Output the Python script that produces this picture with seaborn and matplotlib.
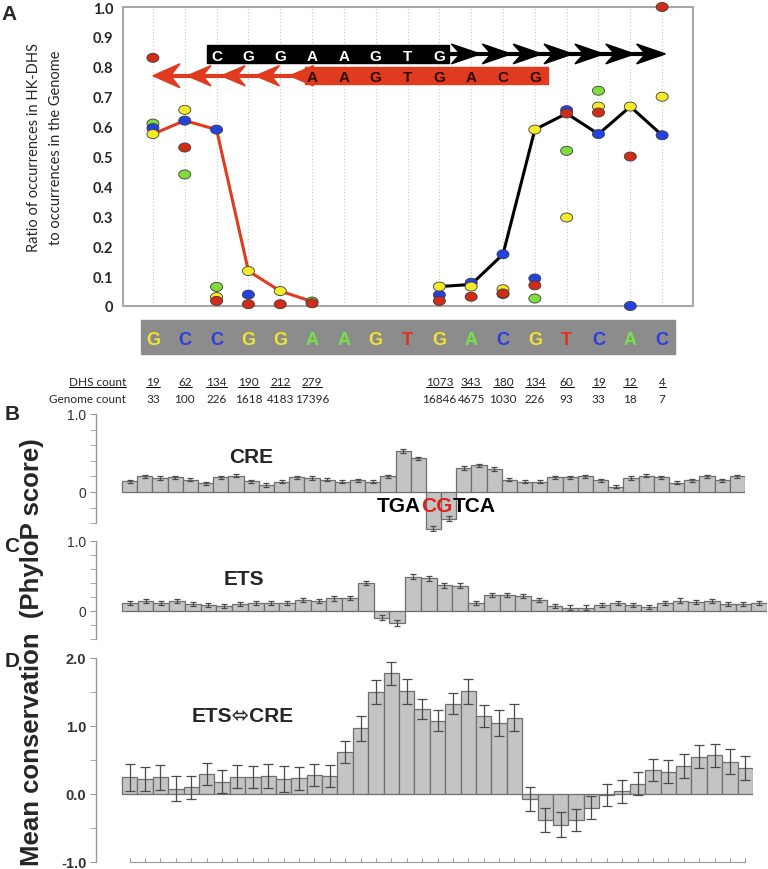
import numpy as np
import pandas as pd
import matplotlib
matplotlib.use("Agg")
import matplotlib.pyplot as plt
import matplotlib.path as mpath
from matplotlib.patches import Rectangle, Polygon
import seaborn as sns

W, H = 768, 870

# ---------------- panel A data ----------------
bases = list("GCCGGAAGTGACGTCAC")
dhs_count = ["19", "62", "134", "190", "212", "279", "", "", "",
             "1073", "343", "180", "134", "60", "19", "12", "4"]
genome_count = ["33", "100", "226", "1618", "4183", "17396", "", "", "",
                "16846", "4675", "1030", "226", "93", "33", "18", "7"]
ratio_A = [0.61, 0.44, 0.064, None, None, 0.015, None, None, None,
           None, None, 0.04, 0.025, 0.519, 0.72, None, None]
ratio_C = [0.595, 0.62, 0.59, 0.038, None, None, None, None, None,
           0.037, 0.078, 0.173, 0.092, 0.655, 0.575, 0.0, 0.571]
ratio_G = [0.575, 0.656, 0.03, 0.117, 0.05, None, None, None, None,
           0.065, 0.065, 0.056, 0.59, 0.296, 0.667, 0.667, 0.70]
ratio_T = [0.83, 0.53, 0.017, 0.006, 0.006, 0.009, None, None, None,
           0.017, 0.031, 0.042, 0.069, 0.644, 0.647, 0.50, 1.0]
cre_pos = [0, 1, 2, 3, 4, 5]
cre_ratio = [0.575, 0.62, 0.59, 0.117, 0.05, 0.015]
ets_pos = [9, 10, 11, 12, 13, 14, 15, 16]
ets_ratio = [0.065, 0.072, 0.173, 0.59, 0.644, 0.575, 0.667, 0.571]
ets_site = list("CGGAAGTG")   # black arrow, positions 2-9
cre_site = list("AAGTGACG")   # red arrow, positions 5-12

# ---------------- panels B-D data (41 positions) ----------------
cre_score = [0.14, 0.20, 0.18, 0.19, 0.16, 0.11, 0.19, 0.21, 0.14, 0.09,
             0.13, 0.19, 0.18, 0.16, 0.13, 0.15, 0.13, 0.20, 0.52, 0.43,
             -0.47, -0.34, 0.31, 0.34, 0.30, 0.16, 0.13, 0.13, 0.19, 0.19,
             0.20, 0.15, 0.07, 0.18, 0.21, 0.19, 0.12, 0.15, 0.20, 0.15, 0.20]
cre_err = [0.02, 0.02, 0.02, 0.02, 0.02, 0.02, 0.02, 0.02, 0.02, 0.02,
           0.02, 0.02, 0.02, 0.02, 0.02, 0.02, 0.02, 0.02, 0.025, 0.025,
           0.03, 0.03, 0.025, 0.025, 0.025, 0.02, 0.02, 0.02, 0.02, 0.02,
           0.02, 0.02, 0.02, 0.02, 0.02, 0.02, 0.02, 0.02, 0.02, 0.02, 0.02]
ets_score = [0.11, 0.14, 0.12, 0.14, 0.095, 0.085, 0.067, 0.095, 0.11, 0.12,
             0.12, 0.16, 0.14, 0.18, 0.185, 0.40, -0.095, -0.17, 0.49, 0.47,
             0.37, 0.36, 0.11, 0.23, 0.23, 0.22, 0.16, 0.076, 0.05, 0.05,
             0.085, 0.12, 0.085, 0.057, 0.12, 0.15, 0.13, 0.14, 0.105, 0.105, 0.115]
ets_err = [0.03, 0.03, 0.03, 0.03, 0.03, 0.03, 0.03, 0.03, 0.03, 0.03,
           0.03, 0.03, 0.03, 0.03, 0.03, 0.035, 0.04, 0.04, 0.035, 0.035,
           0.035, 0.035, 0.03, 0.03, 0.03, 0.03, 0.03, 0.03, 0.03, 0.03,
           0.03, 0.03, 0.03, 0.03, 0.03, 0.03, 0.03, 0.03, 0.03, 0.03, 0.03]
pair_score = [0.245, 0.22, 0.245, 0.08, 0.10, 0.29, 0.18, 0.255, 0.245, 0.265,
              0.22, 0.23, 0.285, 0.26, 0.62, 0.965, 1.50, 1.775, 1.51, 1.25,
              1.08, 1.33, 1.51, 1.15, 1.04, 1.12, -0.07, -0.38, -0.45, -0.38,
              -0.20, -0.01, 0.04, 0.15, 0.35, 0.33, 0.41, 0.55, 0.57, 0.475, 0.38]
pair_err = [0.20, 0.18, 0.18, 0.18, 0.17, 0.16, 0.17, 0.17, 0.16, 0.17,
            0.19, 0.17, 0.16, 0.16, 0.16, 0.18, 0.18, 0.17, 0.18, 0.14,
            0.15, 0.16, 0.18, 0.16, 0.19, 0.20, 0.18, 0.18, 0.18, 0.16,
            0.17, 0.16, 0.17, 0.17, 0.16, 0.17, 0.18, 0.17, 0.17, 0.18, 0.18]

base_colors = {"A": "#7fdc3c", "C": "#2342e0", "G": "#f3ea2a", "T": "#d02c18"}
letter_colors = {"A": "#78e048", "C": "#2b3ae6", "G": "#f2e530", "T": "#e0301c"}
RED = "#e03a1f"
MOTIF_RED = "#e0201b"

sns.set_style("white")
plt.rcParams["font.family"] = ["Liberation Sans", "DejaVu Sans"]

fig = plt.figure(figsize=(W / 100, H / 100), dpi=100)


def fr(x0, y0, x1, y1):
    # pixel box (top-left origin) -> figure fraction rect
    return [x0 / W, 1 - y1 / H, (x1 - x0) / W, (y1 - y0) / H]


# ================= panel A =================
ax = fig.add_axes(fr(123, 8, 693, 307))
for p in range(len(bases)):
    ax.axvline(p, color="#c8c8c8", ls=(0, (1, 2)), lw=0.8, zorder=0)

sns.lineplot(x=cre_pos, y=cre_ratio, color=RED, lw=2.2, ax=ax, zorder=2)
sns.lineplot(x=ets_pos, y=ets_ratio, color="black", lw=2.2, ax=ax, zorder=2)

rows = []
for b, vals in [("A", ratio_A), ("C", ratio_C), ("G", ratio_G), ("T", ratio_T)]:
    for i, v in enumerate(vals):
        if v is not None:
            rows.append((i, v, b))
dots = pd.DataFrame(rows, columns=["pos", "ratio", "base"])
t = np.linspace(0, 2 * np.pi, 60)
ellipse = mpath.Path(np.column_stack([np.cos(t), 0.75 * np.sin(t)]))
sns.scatterplot(data=dots, x="pos", y="ratio", hue="base", palette=base_colors,
                marker=ellipse, s=75, edgecolor="#3c3c3c", linewidth=0.6,
                legend=False, ax=ax, zorder=3, clip_on=False)

ax.set_xlim(-0.94, 16.97)
ax.set_ylim(0, 1)
yt = np.round(np.arange(0, 1.01, 0.1), 1)
ax.set_yticks(yt)
ax.set_yticklabels(["0"] + [f"{v:.1f}" for v in yt[1:]], fontweight="bold",
                   fontsize=10.5, family="Lato")
ax.set_xticks([])
ax.set_xlabel("")
ax.set_ylabel("")
ax.tick_params(axis="y", length=0, pad=7)
for s in ax.spines.values():
    s.set_color("#a8a8a8")
    s.set_linewidth(1.5)

# ETS site arrow (black)
ax.add_patch(Rectangle((1.7, 0.812), 7.6, 0.06, color="black", zorder=4))
for p, b in zip(range(2, 10), ets_site):
    ax.text(p, 0.842, b, color="white", ha="center", va="center_baseline",
            fontsize=11, fontweight="bold", zorder=5)
ax.plot([9.3, 16.0], [0.843, 0.843], color="black", lw=3, zorder=4,
        solid_capstyle="butt")
for tip in np.linspace(10.28, 16.1, 7):
    ax.add_patch(Polygon([(tip, 0.843), (tip - 0.9, 0.876), (tip - 0.62, 0.843),
                          (tip - 0.9, 0.81)], closed=True, color="black", zorder=4))

# CRE site arrow (red, pointing left)
ax.add_patch(Rectangle((4.78, 0.742), 7.64, 0.057, color=RED, zorder=4))
for p, b in zip(range(5, 13), cre_site):
    ax.text(p, 0.77, b, color="#2a0800", ha="center", va="center_baseline",
            fontsize=11, fontweight="bold", zorder=5)
ax.plot([0.2, 4.8], [0.77, 0.77], color=RED, lw=3, zorder=4, solid_capstyle="butt")
for k, tip in enumerate(np.linspace(0, 4.3, 5)):
    hh = 0.04 if k == 0 else 0.034
    ww = 0.85 if k == 0 else 0.75
    ax.add_patch(Polygon([(tip, 0.77), (tip + ww, 0.77 + hh), (tip + ww * 0.65, 0.77),
                          (tip + ww, 0.77 - hh)], closed=True, color=RED, zorder=4))

# sequence bar
ax.add_patch(Rectangle((-0.38, -0.161), 16.78, 0.114, color="#8c8c8c",
                       clip_on=False, zorder=1))
for p, b in enumerate(bases):
    ax.text(p, -0.104, b, color=letter_colors[b], ha="center", va="center_baseline",
            fontsize=13, fontweight="bold", clip_on=False)

# counts
underlined = []
lab = ax.text(-0.85, -0.264, "DHS count", ha="right", va="baseline", fontsize=8.5,
              family="Lato", clip_on=False)
underlined.append(lab)
ax.text(-0.85, -0.321, "Genome count", ha="right", va="baseline", fontsize=8.5,
        family="Lato", clip_on=False)
for p, (d, g) in enumerate(zip(dhs_count, genome_count)):
    if d:
        underlined.append(ax.text(p, -0.264, d, ha="center", va="baseline",
                                  fontsize=8.5, family="Lato", clip_on=False))
        ax.text(p, -0.321, g, ha="center", va="baseline", fontsize=8.5,
                family="Lato", clip_on=False)

fig.text(45 / W, 1 - 148 / H, "Ratio of occurrences in HK-DHS\nto occurrences in the Genome",
         rotation=90, ha="center", va="center", fontsize=10.5, linespacing=1.7,
         family="Lato", multialignment="center")


# ================= panels B-D =================
def bar_panel(rect, vals, errs, ylim, xleft, capsize):
    a = fig.add_axes(rect)
    df = pd.DataFrame({"pos": np.arange(len(vals)), "score": vals})
    sns.barplot(data=df, x="pos", y="score", color="#c4c4c4", saturation=1,
                width=1.0, edgecolor="#6e6e6e", linewidth=0.9, errorbar=None, ax=a)
    a.errorbar(df["pos"], df["score"], yerr=errs, fmt="none", ecolor="#4a4a4a",
               elinewidth=0.9, capsize=capsize, capthick=0.9, zorder=3)
    a.set_xlim(xleft, len(vals) - 0.5)
    a.set_ylim(*ylim)
    a.set_xlabel("")
    a.set_ylabel("")
    for side in ["top", "right", "bottom"]:
        a.spines[side].set_visible(False)
    a.spines["left"].set_color("#9a9a9a")
    a.spines["left"].set_linewidth(1.0)
    a.tick_params(axis="y", which="both", direction="out", color="#9a9a9a",
                  left=True, labelcolor="#333333", labelsize=10, pad=3)
    a.tick_params(axis="y", which="major", length=4)
    a.tick_params(axis="y", which="minor", length=4)
    return a


ax_b = bar_panel(fr(96, 415, 745, 532), cre_score, cre_err, (-0.5, 1.0), -2.21, 2)
ax_b.spines["left"].set_bounds(-0.4, 1.0)
ax_b.set_yticks([0, 1.0])
ax_b.set_yticklabels(["0", "1.0"])
ax_b.set_yticks(np.arange(-0.4, 1.01, 0.2), minor=True)
ax_b.set_xticks([])

ax_c = bar_panel(fr(96, 542, 767, 643.5), ets_score, ets_err, (-0.45, 1.0), -2.15, 2)
ax_c.spines["left"].set_bounds(-0.4, 1.0)
ax_c.set_yticks([0, 1.0])
ax_c.set_yticklabels(["0", "1.0"])
ax_c.set_yticks(np.arange(-0.4, 1.01, 0.2), minor=True)
ax_c.set_xticks([])

ax_d = bar_panel(fr(96, 659, 753, 863), pair_score, pair_err, (-1.0, 2.0), -2.19, 3.5)
ax_d.spines["left"].set_bounds(-1.0, 2.0)
ax_d.spines["bottom"].set_visible(True)
ax_d.spines["bottom"].set_color("#9a9a9a")
ax_d.spines["bottom"].set_bounds(0, 40)
ax_d.set_yticks([-1.0, 0.0, 1.0, 2.0])
ax_d.set_yticklabels(["-1.0", "0.0", "1.0", "2.0"], fontweight="bold", fontsize=10.5)
ax_d.set_yticks([-0.5, 0.5, 1.5], minor=True)
ax_d.set_xticks(np.arange(41))
ax_d.set_xticklabels([])
ax_d.tick_params(axis="x", direction="in", length=3, color="#9a9a9a", bottom=True)

# panel letters and labels
for letter, (x, y) in {"A": (9, 14), "B": (12, 415), "C": (12, 547), "D": (12, 662)}.items():
    fig.text(x / W, 1 - y / H, letter, fontsize=15, fontweight="bold",
             ha="center", va="center")

fig.text(32 / W, 1 - 652 / H, "Mean conservation  (PhyloP score)", rotation=90,
         fontsize=18.5, fontweight="bold", ha="center", va="center")

fig.text(251 / W, 1 - 458 / H, "CRE", fontsize=15, fontweight="bold",
         ha="center", va="center")
fig.text(244 / W, 1 - 580 / H, "ETS", fontsize=15, fontweight="bold",
         ha="center", va="center")
fig.text(243 / W, 1 - 717 / H, "ETS\u2b04CRE", fontsize=15, fontweight="bold",
         ha="center", va="center", family=["Liberation Sans", "DejaVu Sans"])


def motif_text(x_px, y_px, parts):
    s0, c0 = parts[0]
    prev = ax_b.annotate(s0, xy=(x_px / W, 1 - y_px / H), xycoords="figure fraction",
                         color=c0, fontsize=15, fontweight="bold", ha="left",
                         va="center", annotation_clip=False)
    for s, c in parts[1:]:
        prev = ax_b.annotate(s, xy=(1, 0), xycoords=prev, color=c, fontsize=15,
                             fontweight="bold", ha="left", va="bottom",
                             annotation_clip=False)


motif_text(377, 507, [("TGA", "black"), ("CG", MOTIF_RED), ("TCA", "black")])
motif_text(363, 635, [("C", "black"), ("CG", MOTIF_RED), ("GAAGT", "black")])
motif_text(347, 803, [("CG", MOTIF_RED), ("GAAGTGA", "black"), ("CG", MOTIF_RED)])

# underline the DHS counts
fig.canvas.draw()
renderer = fig.canvas.get_renderer()
for txt in underlined:
    bb = txt.get_window_extent(renderer).transformed(ax.transData.inverted())
    ax.plot([bb.x0, bb.x1], [-0.271, -0.271], color="black", lw=0.7, clip_on=False)

fig.savefig("out.png", dpi=100)
